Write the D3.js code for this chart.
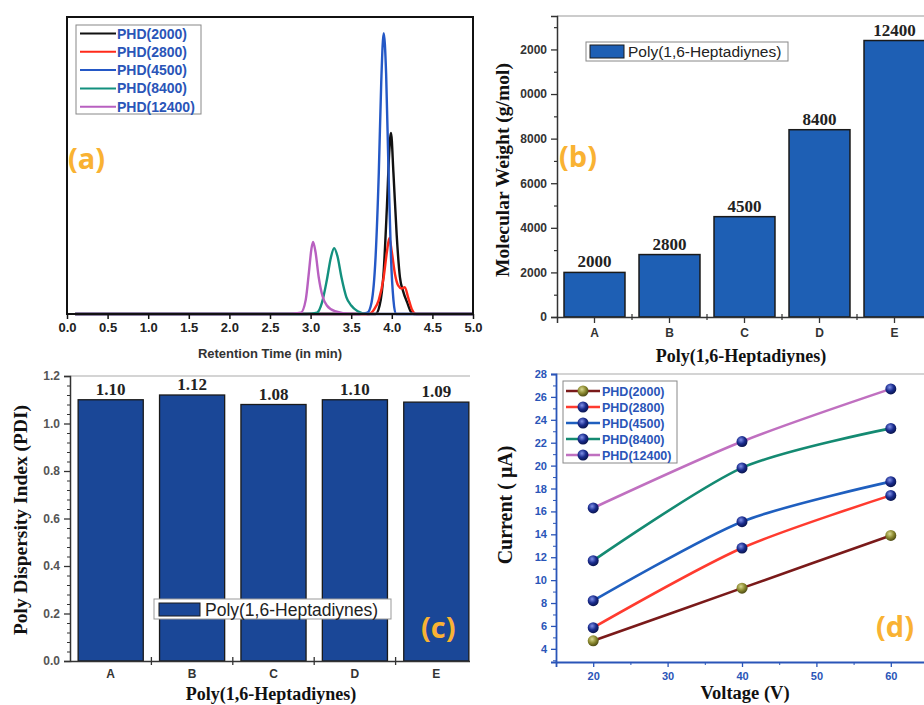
<!DOCTYPE html>
<html>
<head>
<meta charset="utf-8">
<script src="https://cdn.jsdelivr.net/npm/d3@7"></script>
<style>
  body { margin: 0; background: #fff; }
  svg { display: block; }
  .serif { font-family: "Liberation Serif", "Times New Roman", serif; font-weight: bold; }
  .sans { font-family: Arial, "Liberation Sans", sans-serif; }
  .panel-tag { font-family: "Open Sans", sans-serif; font-weight: bold; fill: #f9b233; font-size: 29px; }
</style>
</head>
<body>
<div id="chart"></div>
<script>
// ---------- data ----------
// (a) GPC traces: [retention time (min), intensity (a.u.)]
var gpcNames = ["PHD(2000)", "PHD(2800)", "PHD(4500)", "PHD(8400)", "PHD(12400)"];
var gpc2000 = [[0.1,0],[3.8,0],[3.85,3],[3.9,15],[3.94,38],[3.97,58],[3.99,64],[4.02,50],[4.06,28],[4.1,13],[4.14,8],[4.19,4],[4.23,1],[4.27,0],[5,0]];
var gpc2800 = [[0.1,0],[3.72,0],[3.78,1.5],[3.84,5],[3.9,13],[3.94,22],[3.97,26.9],[4.0,22],[4.04,14],[4.08,10],[4.12,9],[4.16,9.5],[4.2,6],[4.25,1.5],[4.3,0],[5,0]];
var gpc4500 = [[0.1,0],[3.6,0],[3.7,0.5],[3.75,4],[3.8,20],[3.84,50],[3.87,82],[3.9,99.3],[3.93,85],[3.96,50],[3.99,20],[4.02,5],[4.05,0],[5,0]];
var gpc8400 = [[0.1,0],[2.95,0],[3.08,0.5],[3.14,4],[3.2,12],[3.25,20],[3.29,23.3],[3.33,20.5],[3.38,13],[3.44,6],[3.5,3],[3.58,1],[3.7,0],[5,0]];
var gpc12400 = [[0.1,0],[2.7,0],[2.88,0.5],[2.94,5],[2.98,15],[3.01,23],[3.03,25.5],[3.06,22],[3.1,13],[3.15,6],[3.2,3],[3.3,1],[3.5,0],[5,0]];
var gpcColors = ["#111111", "#ff2a1a", "#2458c6", "#13907e", "#b860c0"];
var timeTicks = [0, 0.5, 1, 1.5, 2, 2.5, 3, 3.5, 4, 4.5, 5];

// (b) molecular weight, (c) PDI
var samples = ["A", "B", "C", "D", "E"];
var molWeight = [2000, 2800, 4500, 8400, 12400];
var mwTicks = [0, 2000, 4000, 6000, 8000, 10000, 12000];
var pdi = [1.10, 1.12, 1.08, 1.10, 1.09];
var pdiTicks = [0, 0.2, 0.4, 0.6, 0.8, 1.0, 1.2];

// (d) I-V
var voltage = [20, 40, 60];
var cur2000 = [4.7, 9.3, 13.9];
var cur2800 = [5.85, 12.8, 17.4];
var cur4500 = [8.2, 15.1, 18.6];
var cur8400 = [11.7, 19.8, 23.25];
var cur12400 = [16.3, 22.1, 26.7];
var ivColors = ["#7a1a1a", "#ff3b2f", "#1f5fbf", "#148a72", "#c070c0"];
var voltTicks = [20, 30, 40, 50, 60];
var currTicks = [4, 6, 8, 10, 12, 14, 16, 18, 20, 22, 24, 26, 28];

var svg = d3.select("#chart").append("svg")
    .attr("width", 924)
    .attr("height", 705);

var defs = svg.append("defs");
function sphere(id, c0, c1, c2) {
    var g = defs.append("radialGradient").attr("id", id)
        .attr("cx", "40%").attr("cy", "35%").attr("r", "65%");
    g.append("stop").attr("offset", "0%").attr("stop-color", c0);
    g.append("stop").attr("offset", "55%").attr("stop-color", c1);
    g.append("stop").attr("offset", "100%").attr("stop-color", c2);
}
sphere("ballBlue", "#7f90e8", "#1a2c8e", "#0a154f");
sphere("ballOlive", "#d8d890", "#8c8a30", "#4e4c14");
defs.append("clipPath").attr("id", "clipC")
    .append("rect").attr("x", 0).attr("y", 360).attr("width", 470).attr("height", 345);
defs.append("clipPath").attr("id", "clipBLabels")
    .append("rect").attr("x", 520).attr("y", 0).attr("width", 404).attr("height", 360);

// ---------- (a) ----------
var xA = d3.scaleLinear().domain([0, 5]).range([67, 473]);
var yA = d3.scaleLinear().domain([0, 105]).range([314, 17]);
var gA = svg.append("g");

var lineA = d3.line()
    .x(function (d) { return xA(d[0]); })
    .y(function (d) { return yA(d[1]); })
    .curve(d3.curveMonotoneX);

[gpc2000, gpc2800, gpc4500, gpc8400, gpc12400].forEach(function (s, i) {
    gA.append("path")
        .datum(s)
        .attr("d", lineA)
        .attr("fill", "none")
        .attr("stroke", gpcColors[i])
        .attr("stroke-width", 2.4);
});

gA.append("rect")
    .attr("x", 67).attr("y", 17).attr("width", 406).attr("height", 297)
    .attr("fill", "none").attr("stroke", "#111").attr("stroke-width", 2);

var axA = gA.append("g")
    .attr("transform", "translate(0,314)")
    .call(d3.axisBottom(xA).tickValues(timeTicks).tickFormat(d3.format(".1f")).tickSize(5).tickPadding(4));
axA.select(".domain").remove();
axA.selectAll("line").attr("stroke", "#111").attr("stroke-width", 1.5);
axA.selectAll("text").attr("class", "sans").attr("font-size", 13).attr("font-weight", "bold").attr("fill", "#222");

gA.append("text").attr("class", "sans")
    .attr("x", 270).attr("y", 358).attr("text-anchor", "middle")
    .attr("font-size", 13).attr("font-weight", "bold").attr("fill", "#333")
    .text("Retention Time (in min)");

var legA = gA.append("g");
legA.append("rect").attr("x", 76).attr("y", 25).attr("width", 125).attr("height", 89)
    .attr("fill", "#fff").attr("stroke", "#888").attr("stroke-width", 1);
gpcNames.forEach(function (n, i) {
    var yy = 33.5 + i * 18.3;
    legA.append("line").attr("x1", 80).attr("x2", 116).attr("y1", yy).attr("y2", yy)
        .attr("stroke", gpcColors[i]).attr("stroke-width", 2);
    legA.append("text").attr("class", "sans").attr("x", 117).attr("y", yy + 5)
        .attr("font-size", 14).attr("font-weight", "bold").attr("fill", "#2a55b8").text(n);
});

gA.append("text").attr("class", "panel-tag").attr("x", 68).attr("y", 169).text("(a)");

// ---------- (b) ----------
var xB = d3.scaleBand().domain(samples).range([557, 932]).paddingInner(0.187).paddingOuter(0.0935);
var yB = d3.scaleLinear().domain([0, 13500]).range([317, 16]);
var gB = svg.append("g");

gB.selectAll("rect.bar")
    .data(molWeight)
    .enter().append("rect")
    .attr("class", "bar")
    .attr("x", function (d, i) { return xB(samples[i]); })
    .attr("y", function (d) { return yB(d); })
    .attr("width", xB.bandwidth())
    .attr("height", function (d) { return yB(0) - yB(d); })
    .attr("fill", "#1e5fb4")
    .attr("stroke", "#1a1a1a")
    .attr("stroke-width", 1.5);

gB.selectAll("text.val")
    .data(molWeight)
    .enter().append("text")
    .attr("class", "val serif")
    .attr("x", function (d, i) { return xB(samples[i]) + xB.bandwidth() / 2; })
    .attr("y", function (d) { return yB(d) - 5; })
    .attr("text-anchor", "middle")
    .attr("font-size", 17)
    .attr("fill", "#222")
    .text(function (d) { return d; });

gB.append("line").attr("x1", 557).attr("x2", 924).attr("y1", 16).attr("y2", 16)
    .attr("stroke", "#999").attr("stroke-width", 1.2);

// left part of the big labels is cut off in the original figure
var bClip = gB.append("g").attr("clip-path", "url(#clipBLabels)");
var axBy = bClip.append("g").attr("transform", "translate(557,0)")
    .call(d3.axisLeft(yB).tickValues(mwTicks).tickFormat(d3.format("d")).tickSize(6).tickPadding(4));
axBy.select(".domain").attr("stroke", "#333").attr("stroke-width", 1.5);
axBy.selectAll("line").attr("stroke", "#333").attr("stroke-width", 1.3);
axBy.selectAll("text").attr("class", "sans").attr("font-size", 12).attr("font-weight", "bold")
    .attr("fill", "#333");
var axByMinor = gB.append("g").attr("transform", "translate(557,0)")
    .call(d3.axisLeft(yB).tickValues([1000, 3000, 5000, 7000, 9000, 11000, 13000]).tickSize(3).tickFormat(""));
axByMinor.select(".domain").remove();
axByMinor.selectAll("line").attr("stroke", "#333").attr("stroke-width", 1.2);

var axBx = gB.append("g").attr("transform", "translate(0,317)")
    .call(d3.axisBottom(xB).tickSize(6).tickPadding(5));
axBx.select(".domain").attr("stroke", "#333").attr("stroke-width", 1.5);
axBx.selectAll("line").attr("stroke", "#333").attr("stroke-width", 1.3);
axBx.selectAll("text").attr("class", "sans").attr("font-size", 12).attr("font-weight", "bold").attr("fill", "#333");
samples.slice(1).forEach(function (s) {
    var xx = xB(s) - xB.step() * xB.paddingInner() / 2;
    gB.append("line").attr("x1", xx).attr("x2", xx).attr("y1", 314).attr("y2", 320)
        .attr("stroke", "#333").attr("stroke-width", 1.2);
});

gB.append("text").attr("class", "serif")
    .attr("x", 741).attr("y", 362).attr("text-anchor", "middle")
    .attr("font-size", 18).attr("fill", "#111")
    .text("Poly(1,6-Heptadiynes)");
gB.append("text").attr("class", "serif")
    .attr("transform", "translate(509,170) rotate(-90)")
    .attr("text-anchor", "middle").attr("font-size", 19.5).attr("fill", "#111")
    .text("Molecular Weight (g/mol)");

var legB = gB.append("g");
legB.append("rect").attr("x", 586).attr("y", 42).attr("width", 202).attr("height", 19)
    .attr("fill", "#fff").attr("stroke", "#888").attr("stroke-width", 1);
legB.append("rect").attr("x", 590).attr("y", 45).attr("width", 34).attr("height", 13)
    .attr("fill", "#1e5fb4").attr("stroke", "#1a1a1a");
legB.append("text").attr("class", "sans").attr("x", 628).attr("y", 57)
    .attr("font-size", 15.5).attr("fill", "#222").text("Poly(1,6-Heptadiynes)");

gB.append("text").attr("class", "panel-tag").attr("x", 559).attr("y", 167).text("(b)");

// ---------- (c) ----------
var xC = d3.scaleBand().domain(samples).range([70, 477]).paddingInner(0.2).paddingOuter(0.1);
var yC = d3.scaleLinear().domain([0, 1.2]).range([661, 376]);
var gC = svg.append("g");
var gCc = gC.append("g").attr("clip-path", "url(#clipC)");

gCc.selectAll("rect.bar")
    .data(pdi)
    .enter().append("rect")
    .attr("class", "bar")
    .attr("x", function (d, i) { return xC(samples[i]); })
    .attr("y", function (d) { return yC(d); })
    .attr("width", xC.bandwidth())
    .attr("height", function (d) { return yC(0) - yC(d); })
    .attr("fill", "#1a4797")
    .attr("stroke", "#1a1a1a")
    .attr("stroke-width", 1.3);

gCc.selectAll("text.val")
    .data(pdi)
    .enter().append("text")
    .attr("class", "val serif")
    .attr("x", function (d, i) { return xC(samples[i]) + xC.bandwidth() / 2; })
    .attr("y", function (d) { return yC(d) - 5; })
    .attr("text-anchor", "middle")
    .attr("font-size", 17)
    .attr("fill", "#222")
    .text(function (d) { return d3.format(".2f")(d); });

gCc.append("line").attr("x1", 70).attr("x2", 470).attr("y1", 376).attr("y2", 376)
    .attr("stroke", "#aaa").attr("stroke-width", 1.2);

var axCy = gC.append("g").attr("transform", "translate(70,0)")
    .call(d3.axisLeft(yC).tickValues(pdiTicks).tickFormat(d3.format(".1f")).tickSize(6).tickPadding(4));
axCy.select(".domain").attr("stroke", "#333").attr("stroke-width", 1.5);
axCy.selectAll("line").attr("stroke", "#333").attr("stroke-width", 1.3);
axCy.selectAll("text").attr("class", "sans").attr("font-size", 12).attr("font-weight", "bold").attr("fill", "#555");
var cMinor = d3.range(0, 1.2, 0.04).filter(function (v) { return Math.abs(v * 5 - Math.round(v * 5)) > 1e-6; });
var axCyMinor = gC.append("g").attr("transform", "translate(70,0)")
    .call(d3.axisLeft(yC).tickValues(cMinor).tickSize(3).tickFormat(""));
axCyMinor.select(".domain").remove();
axCyMinor.selectAll("line").attr("stroke", "#333").attr("stroke-width", 1);

var axCx = gCc.append("g").attr("transform", "translate(0,661)")
    .call(d3.axisBottom(xC).tickSize(0).tickPadding(8));
axCx.select(".domain").attr("stroke", "#333").attr("stroke-width", 1.5);
axCx.selectAll("text").attr("class", "sans").attr("font-size", 12).attr("font-weight", "bold").attr("fill", "#333");
samples.slice(1).forEach(function (s) {
    var xx = xC(s) - xC.step() * xC.paddingInner() / 2;
    gC.append("line").attr("x1", xx).attr("x2", xx).attr("y1", 657).attr("y2", 665)
        .attr("stroke", "#333").attr("stroke-width", 1.3);
});

gC.append("text").attr("class", "serif")
    .attr("x", 271).attr("y", 700).attr("text-anchor", "middle")
    .attr("font-size", 18).attr("fill", "#111")
    .text("Poly(1,6-Heptadiynes)");
gC.append("text").attr("class", "serif")
    .attr("transform", "translate(27,520) rotate(-90)")
    .attr("text-anchor", "middle").attr("font-size", 19.5).attr("fill", "#111")
    .text("Poly Dispersity Index (PDI)");

var legC = gC.append("g");
legC.append("rect").attr("x", 154).attr("y", 599).attr("width", 237).attr("height", 20)
    .attr("fill", "#fff").attr("stroke", "#999").attr("stroke-width", 1);
legC.append("rect").attr("x", 159).attr("y", 603).attr("width", 41).attr("height", 13)
    .attr("fill", "#1a4797").attr("stroke", "#1a1a1a");
legC.append("text").attr("class", "sans").attr("x", 205).attr("y", 615.5)
    .attr("font-size", 17.5).attr("fill", "#222").text("Poly(1,6-Heptadiynes)");

gC.append("text").attr("class", "panel-tag").attr("x", 421).attr("y", 638).text("(c)");

// ---------- (d) ----------
var xD = d3.scaleLinear().domain([15, 65]).range([556, 928]);
var yD = d3.scaleLinear().domain([2.85, 28]).range([662, 374]);
var gD = svg.append("g");
var blueAx = "#2a55b8";

gD.append("line").attr("x1", 556).attr("x2", 924).attr("y1", 374).attr("y2", 374)
    .attr("stroke", "#aaa").attr("stroke-width", 1.2);

var axDy = gD.append("g").attr("transform", "translate(556,0)")
    .call(d3.axisLeft(yD).tickValues(currTicks).tickSize(5).tickPadding(4));
axDy.select(".domain").attr("stroke", blueAx).attr("stroke-width", 1.8);
axDy.selectAll("line").attr("stroke", blueAx).attr("stroke-width", 1.3);
axDy.selectAll("text").attr("class", "sans").attr("font-size", 11).attr("font-weight", "bold").attr("fill", blueAx);
var axDyMinor = gD.append("g").attr("transform", "translate(556,0)")
    .call(d3.axisLeft(yD).tickValues([3, 5, 7, 9, 11, 13, 15, 17, 19, 21, 23, 25, 27]).tickSize(3).tickFormat(""));
axDyMinor.select(".domain").remove();
axDyMinor.selectAll("line").attr("stroke", blueAx).attr("stroke-width", 1);

var axDx = gD.append("g").attr("transform", "translate(0,662)")
    .call(d3.axisBottom(xD).tickValues(voltTicks).tickSize(5).tickPadding(5));
axDx.select(".domain").attr("stroke", blueAx).attr("stroke-width", 1.8);
axDx.selectAll("line").attr("stroke", blueAx).attr("stroke-width", 1.3);
axDx.selectAll("text").attr("class", "sans").attr("font-size", 11).attr("font-weight", "bold").attr("fill", blueAx);
var axDxMinor = gD.append("g").attr("transform", "translate(0,662)")
    .call(d3.axisBottom(xD).tickValues([25, 35, 45, 55]).tickSize(3).tickFormat(""));
axDxMinor.select(".domain").remove();
axDxMinor.selectAll("line").attr("stroke", blueAx).attr("stroke-width", 1);

var lineD = d3.line()
    .x(function (d, i) { return xD(voltage[i]); })
    .y(function (d) { return yD(d); })
    .curve(d3.curveCardinal.tension(0.2));

var ivSeries = [cur2000, cur2800, cur4500, cur8400, cur12400];
ivSeries.forEach(function (s, k) {
    gD.append("path").datum(s).attr("d", lineD)
        .attr("fill", "none").attr("stroke", ivColors[k]).attr("stroke-width", 2.6);
});
ivSeries.forEach(function (s, k) {
    gD.selectAll(null).data(s).enter().append("circle")
        .attr("cx", function (d, i) { return xD(voltage[i]); })
        .attr("cy", function (d) { return yD(d); })
        .attr("r", 5.5)
        .attr("fill", k === 0 ? "url(#ballOlive)" : "url(#ballBlue)");
});

gD.append("text").attr("class", "serif")
    .attr("x", 745).attr("y", 699).attr("text-anchor", "middle")
    .attr("font-size", 18.5).attr("fill", "#111")
    .text("Voltage (V)");
gD.append("text").attr("class", "serif")
    .attr("transform", "translate(512,505) rotate(-90)")
    .attr("text-anchor", "middle").attr("font-size", 20).attr("fill", "#111")
    .text("Current ( μA)");

var legD = gD.append("g");
legD.append("rect").attr("x", 563).attr("y", 381).attr("width", 114).attr("height", 82)
    .attr("fill", "#fff").attr("stroke", "#888").attr("stroke-width", 1);
gpcNames.forEach(function (n, k) {
    var yy = 391 + k * 16;
    legD.append("line").attr("x1", 566).attr("x2", 600).attr("y1", yy).attr("y2", yy)
        .attr("stroke", ivColors[k]).attr("stroke-width", 2.6);
    legD.append("circle").attr("cx", 583).attr("cy", yy).attr("r", 5.5)
        .attr("fill", k === 0 ? "url(#ballOlive)" : "url(#ballBlue)");
    legD.append("text").attr("class", "sans").attr("x", 602).attr("y", yy + 4.5)
        .attr("font-size", 12.5).attr("font-weight", "bold").attr("fill", blueAx).text(n);
});

gD.append("text").attr("class", "panel-tag").attr("x", 876).attr("y", 637).text("(d)");
</script>
</body>
</html>
